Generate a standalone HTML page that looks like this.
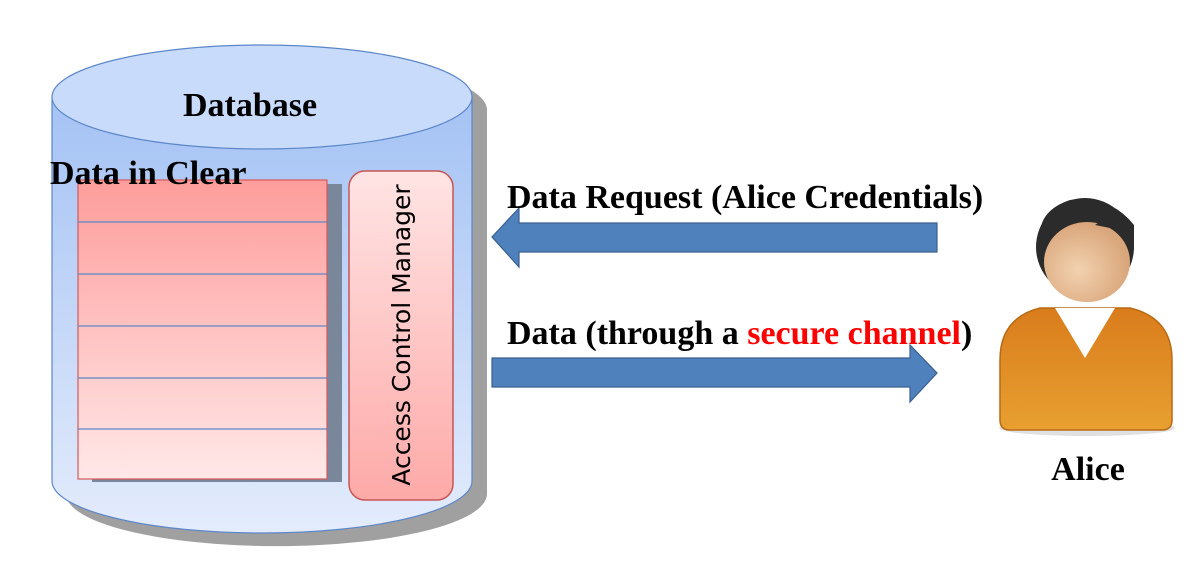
<!DOCTYPE html>
<html><head><meta charset="utf-8"><style>
html,body{margin:0;padding:0;background:#fff;}
svg{display:block;}
</style></head><body>
<svg width="1196" height="578" viewBox="0 0 1196 578" xmlns="http://www.w3.org/2000/svg">
<defs>
<linearGradient id="cyl" x1="0" y1="0" x2="0" y2="1">
<stop offset="0" stop-color="#a4c2f4"/><stop offset="1" stop-color="#e4ecfc"/>
</linearGradient>
<linearGradient id="tbl" x1="0" y1="0" x2="0" y2="1">
<stop offset="0" stop-color="#fd9d9b"/><stop offset="1" stop-color="#ffe8e8"/>
</linearGradient>
<linearGradient id="acm" x1="0" y1="0" x2="0" y2="1">
<stop offset="0" stop-color="#ffe4e4"/><stop offset="1" stop-color="#fdaaa8"/>
</linearGradient>
<linearGradient id="shirt" x1="0" y1="0" x2="0" y2="1">
<stop offset="0" stop-color="#d97c1c"/><stop offset="1" stop-color="#e8a030"/>
</linearGradient>
<radialGradient id="face" cx="0.4" cy="0.6" r="0.6">
<stop offset="0" stop-color="#f2d2b0"/><stop offset="1" stop-color="#d9a57a"/>
</radialGradient>
</defs>
<path d="M66 110 L66 494 A210 52 0 0 0 487 494 L487 110 A210 52 0 0 0 66 110 Z" fill="#a0a0a0"/>
<path d="M52 97 L52 481 A210 52 0 0 0 472 481 L472 97 Z" fill="url(#cyl)" stroke="#5b87c9" stroke-width="1.2"/>
<ellipse cx="262" cy="97" rx="210" ry="52" fill="#c9dbfb" stroke="#5b87c9" stroke-width="1.2"/>
<text x="250" y="116" font-family="Liberation Serif, serif" font-weight="bold" font-size="34" text-anchor="middle">Database</text>
<rect x="92" y="184" width="250" height="298" fill="#7a8699"/>
<rect x="78" y="180" width="249" height="299" fill="url(#tbl)" stroke="#d65a5a" stroke-width="1.2"/>
<g stroke="#5b87c9" stroke-width="1.2">
<line x1="78" y1="222" x2="327" y2="222"/><line x1="78" y1="274" x2="327" y2="274"/>
<line x1="78" y1="326" x2="327" y2="326"/><line x1="78" y1="378" x2="327" y2="378"/>
<line x1="78" y1="429" x2="327" y2="429"/>
</g>
<text x="50" y="184" font-family="Liberation Serif, serif" font-weight="bold" font-size="34">Data in Clear</text>
<rect x="349" y="171" width="104" height="329" rx="16" fill="url(#acm)" stroke="#c95555" stroke-width="1.5"/>
<text transform="translate(410,335) rotate(-90)" font-family="DejaVu Sans, sans-serif" font-size="25" text-anchor="middle">Access Control Manager</text>
<path d="M937 223 L519 223 L519 208 L492 237 L519 267 L519 252 L937 252 Z" fill="#4f81bd" stroke="#3a5f8f" stroke-width="1.2"/>
<path d="M492 358 L910 358 L910 345 L937 373 L910 402 L910 387 L492 387 Z" fill="#4f81bd" stroke="#3a5f8f" stroke-width="1.2"/>
<text x="507" y="208" font-family="Liberation Serif, serif" font-weight="bold" font-size="34">Data Request (Alice Credentials)</text>
<text x="507" y="344" font-family="Liberation Serif, serif" font-weight="bold" font-size="34">Data (through a <tspan fill="#ff0000">secure channel</tspan>)</text>
<ellipse cx="1087" cy="428" rx="88" ry="8" fill="#ccc" opacity="0.6"/>
<path d="M1000 420 L1000 360 Q1000 318 1040 308 L1130 308 Q1172 318 1172 360 L1172 420 Q1172 430 1162 430 L1010 430 Q1000 430 1000 420 Z" fill="url(#shirt)" stroke="#b86a14" stroke-width="1.5"/>
<path d="M1055 308 L1085 358 L1115 308 Z" fill="#fff"/>
<circle cx="1085" cy="247" r="49" fill="#2b2b2b"/>
<ellipse cx="1087" cy="262" rx="43" ry="40" fill="url(#face)"/>
<path d="M1040 235 Q1060 205 1110 215 L1095 225 L1120 230 Q1130 238 1134 250 L1134 225 Q1110 195 1070 200 Q1040 210 1040 235 Z" fill="#2b2b2b"/>
<text x="1088" y="480" font-family="Liberation Serif, serif" font-weight="bold" font-size="34" text-anchor="middle">Alice</text>
</svg>
</body></html>
